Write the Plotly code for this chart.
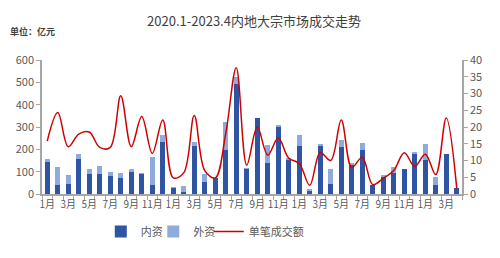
import plotly.graph_objects as go

months = ["1月","2月","3月","4月","5月","6月","7月","8月","9月","10月","11月","12月"] * 3 + ["1月","2月","3月","4月"]

domestic = [142, 40, 43, 158, 88, 91, 82, 70, 99, 91, 42, 234,
            28, 10, 213, 53, 70, 199, 491, 112, 340, 139, 303, 151,
            216, 17, 219, 43, 211, 131, 198, 39, 77, 95, 114, 177,
            151, 39, 181, 28]
foreign = [15, 81, 41, 20, 25, 34, 18, 22, 11, 1, 125, 28,
           3, 28, 20, 36, 0, 122, 35, 2, 0, 79, 2, 9,
           49, 3, 3, 69, 33, 6, 32, 0, 4, 24, 0, 10,
           72, 35, 0, 0]
avg_deal = [15.8, 24.3, 14.1, 17.9, 18.5, 13.9, 13.9, 29.3, 14.1, 23.1, 12.1, 22.1,
            4.8, 6.3, 23.4, 7.0, 4.8, 18.1, 37.7, 8.6, 20.0, 11.6, 16.7, 10.7,
            9.1, 2.6, 12.4, 10.0, 22.1, 7.9, 11.0, 2.8, 4.7, 7.0, 12.3, 8.2,
            11.9, 5.8, 22.7, 1.7]

x = list(range(len(months)))
tickvals = x[::2]
ticktext = months[::2]

FONT = "Microsoft YaHei, Noto Sans CJK SC, sans-serif"
DARK = "#2F54A3"
LIGHT = "#8FAADC"
RED = "#D00000"
GRAY = "#595959"

fig = go.Figure()
fig.add_trace(go.Bar(x=x, y=domestic, name="内资", marker_color=DARK, marker_line_width=0,
                     legend="legend"))
fig.add_trace(go.Bar(x=x, y=foreign, name="外资", marker_color=LIGHT, marker_line_width=0,
                     legend="legend2"))
fig.add_trace(go.Scatter(x=x, y=avg_deal, name="单笔成交额", yaxis="y2", mode="lines",
                         legend="legend3",
                         line=dict(color=RED, width=1.5, shape="spline", smoothing=1.0)))

leg = dict(orientation="h", xanchor="left", y=-0.28, yanchor="middle",
           font=dict(size=11, color=GRAY), itemwidth=30, bgcolor="rgba(0,0,0,0)")

fig.update_layout(
    width=500, height=258,
    margin=dict(l=42, r=38, t=60, b=55),
    barmode="stack", bargap=0.55,
    plot_bgcolor="white", paper_bgcolor="white",
    font=dict(family=FONT, color=GRAY, size=11),
    title=dict(text="2020.1-2023.4内地大宗市场成交走势", x=0.508, xanchor="center",
               y=0.915, yanchor="middle", font=dict(size=13, color="#404040")),
    xaxis=dict(range=[-0.5, len(x) - 0.5], tickmode="array", tickvals=tickvals, ticktext=ticktext,
               ticks="", showline=True, linecolor="#A6A6A6", linewidth=1.5, showgrid=False,
               zeroline=False, tickfont=dict(size=10, color=GRAY),
               minor=dict(ticks="outside", tick0=-0.5, dtick=1, ticklen=4, tickcolor="#A6A6A6", showgrid=False)),
    yaxis=dict(range=[0, 600], dtick=100, ticks="outside", ticklen=4, tickcolor="#A6A6A6",
               showline=True, linecolor="#A6A6A6", linewidth=1.5, showgrid=False, zeroline=False,
               tickfont=dict(size=11, color=GRAY)),
    yaxis2=dict(range=[0, 40], dtick=5, overlaying="y", side="right", ticks="outside", ticklen=4,
                tickcolor="#A6A6A6", showline=True, linecolor="#A6A6A6", linewidth=1.5,
                showgrid=False, zeroline=False, tickfont=dict(size=11, color=GRAY)),
    legend=dict(leg, x=0.14),
    legend2=dict(leg, x=0.265),
    legend3=dict(leg, x=0.397),
    showlegend=True,
)

fig.add_annotation(text="<b>单位：亿元</b>", xref="paper", yref="paper", x=-0.08, y=1.21,
                   xanchor="left", yanchor="middle", showarrow=False,
                   font=dict(size=9, color="#404040", family=FONT))

fig.write_html("out.html")
